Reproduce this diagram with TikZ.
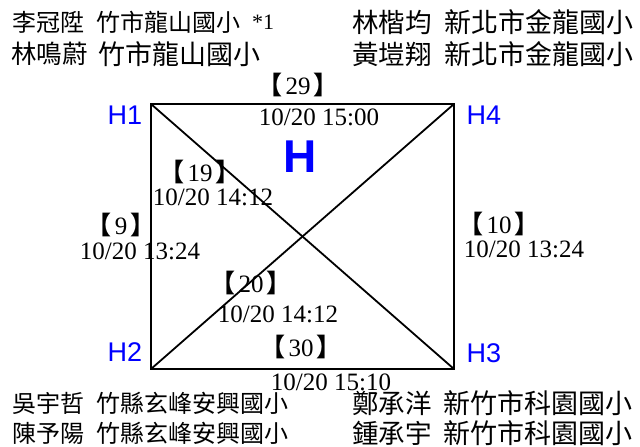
\documentclass[tikz,border=0pt]{standalone}
\usepackage{fontspec}
\setmainfont{Liberation Serif}
\newfontfamily\cjk{Noto Sans CJK TC}
\newfontfamily\hsans{Liberation Sans}
\definecolor{hblue}{RGB}{0,0,255}
\newcommand{\fs}[1]{\fontsize{#1}{#1}\selectfont}
\newcommand{\lb}[1]{{\cjk\bfseries 【}\hspace{0.12em}#1\hspace{0.12em}{\cjk\bfseries 】}}
\begin{document}
\begin{tikzpicture}[x=1pt,y=-1pt,
  cjkt/.style={anchor=west,inner sep=0pt,font=\cjk},
  hlab/.style={inner sep=0pt,text=hblue,font=\hsans\fs{27}},
  elab/.style={inner sep=0pt,font=\fs{25}},
  etime/.style={inner sep=0pt,font=\fs{25}},
  edge/.style={line width=1.8pt,black}]
\useasboundingbox (0,0) rectangle (640,447);
% corners
\coordinate (c1) at (151,104);
\coordinate (c4) at (454,104);
\coordinate (c2) at (151,369);
\coordinate (c3) at (454,369);
\draw[edge,line join=miter] (c1) -- (c4) -- (c3) -- (c2) -- cycle;
\draw[edge] (c1) -- (c3);
\draw[edge] (c4) -- (c2);
% corner labels
\node[hlab] (h1) at (125,115) {H1};
\node[hlab] (h4) at (484,115) {H4};
\node[hlab] (h2) at (125,352) {H2};
\node[hlab] (h3) at (484,353) {H3};
\node[inner sep=0pt,text=hblue,font=\hsans\bfseries\fs{46}] (hh) at (300,157) {H};
% edge labels
\node[elab] (l29) at (298,85) {\lb{29}};
\node[etime] (t29) at (319,117) {10/20 15:00};
\node[elab] (l19) at (200,172) {\lb{19}};
\node[etime] (t19) at (213,197) {10/20 14:12};
\node[elab] (l9) at (121,225) {\lb{9}};
\node[etime] (t9) at (140,251) {10/20 13:24};
\node[elab] (l10) at (499,224) {\lb{10}};
\node[etime] (t10) at (524,249) {10/20 13:24};
\node[elab] (l20) at (251,283) {\lb{20}};
\node[etime] (t20) at (278,314) {10/20 14:12};
\node[elab] (l30) at (301,347) {\lb{30}};
\node[etime] (t30) at (331,382) {10/20 15:10};
% team names
\node[cjkt,font=\cjk\fs{24}] (n1a) at (12,22) {李冠陞};
\node[cjkt,font=\cjk\fs{24}] (s1a) at (96,22) {竹市龍山國小};
\node[cjkt,font=\fs{22}] (m1a) at (252,22) {*1};
\node[cjkt,font=\cjk\fs{25.5}] (n1b) at (11,54) {林鳴蔚};
\node[cjkt,font=\cjk\fs{27}] (s1b) at (98,54) {竹市龍山國小};
\node[cjkt,font=\cjk\fs{26.5}] (n4a) at (352,22) {林楷均};
\node[cjkt,font=\cjk\fs{27}] (s4a) at (444,22) {新北市金龍國小};
\node[cjkt,font=\cjk\fs{26.5}] (n4b) at (352,54) {黃塏翔};
\node[cjkt,font=\cjk\fs{27}] (s4b) at (444,54) {新北市金龍國小};
\node[cjkt,font=\cjk\fs{24}] (n2a) at (12,403) {吳宇哲};
\node[cjkt,font=\cjk\fs{24}] (s2a) at (96,403) {竹縣玄峰安興國小};
\node[cjkt,font=\cjk\fs{24}] (n2b) at (12,433) {陳予陽};
\node[cjkt,font=\cjk\fs{24}] (s2b) at (96,433) {竹縣玄峰安興國小};
\node[cjkt,font=\cjk\fs{26.5}] (n3a) at (352,403) {鄭承洋};
\node[cjkt,font=\cjk\fs{27}] (s3a) at (443,403) {新竹市科園國小};
\node[cjkt,font=\cjk\fs{26.5}] (n3b) at (352,433) {鍾承宇};
\node[cjkt,font=\cjk\fs{27}] (s3b) at (443,433) {新竹市科園國小};
\end{tikzpicture}
\end{document}
